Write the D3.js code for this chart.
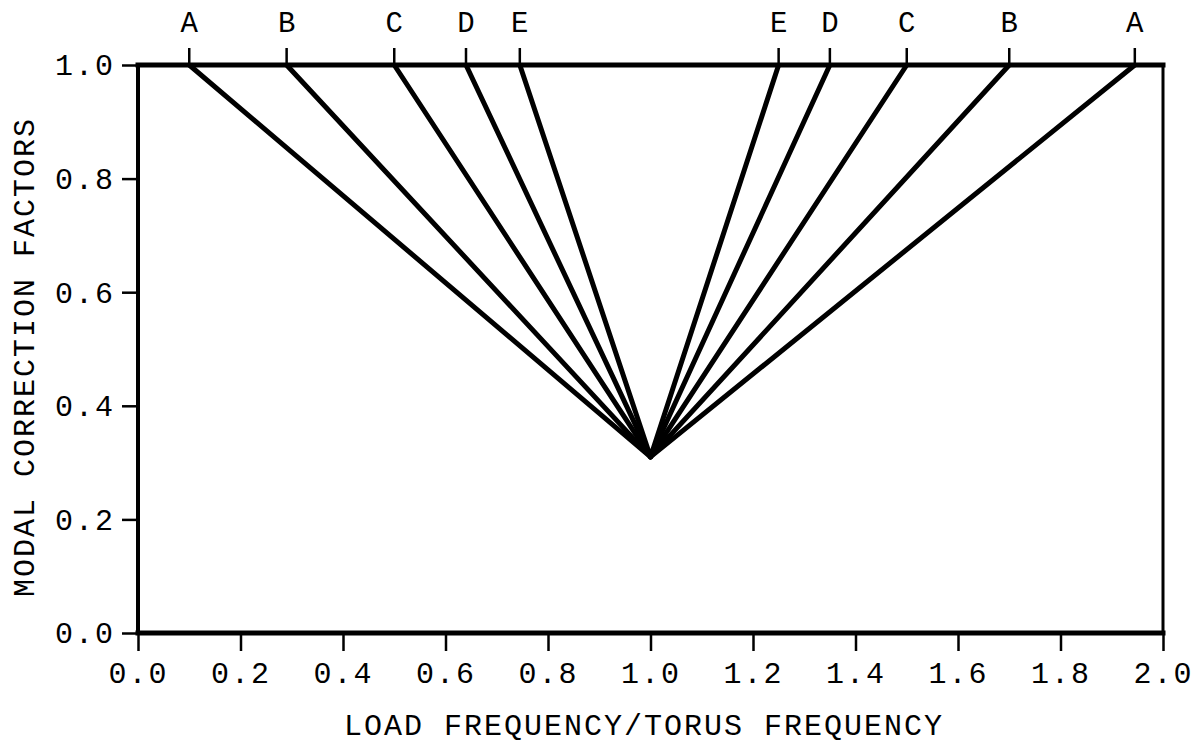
<!DOCTYPE html>
<html>
<head>
<meta charset="utf-8">
<script src="https://cdn.jsdelivr.net/npm/d3@7"></script>
<style>
  html, body { margin: 0; padding: 0; background: #fff; }
  svg { display: block; }
  text { font-family: "Courier New", "Liberation Mono", monospace; fill: #000; }
</style>
</head>
<body>
<svg id="chart" width="1195" height="745"></svg>
<script>
// Curve identifiers, drawn above the top frame at both ends of each curve
const curveLabels = ["A", "B", "C", "D", "E"];
// Frequency ratio where each curve reaches a factor of 1.0 below resonance
const lowerEnds = [0.10, 0.29, 0.50, 0.64, 0.745];
// Frequency ratio where each curve reaches a factor of 1.0 above resonance
const upperEnds = [1.945, 1.70, 1.50, 1.35, 1.25];
// All curves meet at the resonance point
const resonanceRatio = 1.0;
const resonanceFactor = 0.31;
const fullFactor = 1.0;

const xTicks = [0, 0.2, 0.4, 0.6, 0.8, 1.0, 1.2, 1.4, 1.6, 1.8, 2.0];
const yTicks = [0, 0.2, 0.4, 0.6, 0.8, 1.0];

const margin = { left: 138, right: 1163, top: 65, bottom: 633 };
const svg = d3.select("#chart");

const x = d3.scaleLinear().domain([0, 2]).range([margin.left, margin.right]);
const y = d3.scaleLinear().domain([0, 1]).range([margin.bottom, margin.top]);
const fmt = d3.format(".1f");
const monoFont = "'Courier New', 'Liberation Mono', monospace";

// Bottom axis
const xAxis = svg.append("g")
  .attr("transform", `translate(0,${margin.bottom})`)
  .call(d3.axisBottom(x).tickValues(xTicks).tickFormat(fmt).tickSize(18).tickSizeOuter(0));
xAxis.select(".domain").remove();
xAxis.selectAll(".tick line").attr("stroke", "#000").attr("stroke-width", 2.5);
xAxis.selectAll(".tick text")
  .attr("y", 50).attr("dy", 0)
  .attr("font-size", 30).attr("letter-spacing", 2)
  .attr("font-family", monoFont);

// Left axis
const yAxis = svg.append("g")
  .attr("transform", `translate(${margin.left},0)`)
  .call(d3.axisLeft(y).tickValues(yTicks).tickFormat(fmt).tickSize(16).tickSizeOuter(0));
yAxis.select(".domain").remove();
yAxis.selectAll(".tick line").attr("stroke", "#000").attr("stroke-width", 2.5);
yAxis.selectAll(".tick text")
  .attr("x", -23).attr("dy", "0.33em")
  .attr("font-size", 30).attr("letter-spacing", 2)
  .attr("font-family", monoFont);

// Frame
const frame = svg.append("g").attr("stroke", "#000").attr("stroke-linecap", "square");
frame.append("line").attr("x1", x(0)).attr("x2", x(2)).attr("y1", y(1)).attr("y2", y(1)).attr("stroke-width", 5);
frame.append("line").attr("x1", x(0)).attr("x2", x(2)).attr("y1", y(0)).attr("y2", y(0)).attr("stroke-width", 5);
frame.append("line").attr("x1", x(0)).attr("x2", x(0)).attr("y1", y(0)).attr("y2", y(1)).attr("stroke-width", 4);
frame.append("line").attr("x1", x(2)).attr("x2", x(2)).attr("y1", y(0)).attr("y2", y(1)).attr("stroke-width", 3);

// Curves: each one a V from its lower end, through resonance, to its upper end
const line = d3.line().x(d => x(d[0])).y(d => y(d[1]));
const curves = curveLabels.map((label, i) => ({
  label,
  points: [
    [lowerEnds[i], fullFactor],
    [resonanceRatio, resonanceFactor],
    [upperEnds[i], fullFactor]
  ]
}));

svg.append("g").selectAll("path")
  .data(curves)
  .join("path")
  .attr("d", d => line(d.points))
  .attr("fill", "none")
  .attr("stroke", "#000")
  .attr("stroke-width", 5)
  .attr("stroke-linejoin", "round");

// Top markers and labels at both ends of every curve
const ends = curves.flatMap(c => [
  { label: c.label, v: c.points[0][0] },
  { label: c.label, v: c.points[2][0] }
]);
const endMarks = svg.append("g");
endMarks.selectAll("line")
  .data(ends)
  .join("line")
  .attr("x1", d => x(d.v)).attr("x2", d => x(d.v))
  .attr("y1", y(fullFactor) - 17).attr("y2", y(fullFactor))
  .attr("stroke", "#000").attr("stroke-width", 2.5);
endMarks.selectAll("text")
  .data(ends)
  .join("text")
  .attr("x", d => x(d.v))
  .attr("y", 32)
  .attr("text-anchor", "middle")
  .attr("font-size", 29)
  .text(d => d.label);

// Axis titles
svg.append("text")
  .attr("x", 644).attr("y", 735)
  .attr("text-anchor", "middle")
  .attr("font-size", 30).attr("letter-spacing", 2)
  .text("LOAD FREQUENCY/TORUS FREQUENCY");

svg.append("text")
  .attr("transform", "translate(34,357) rotate(-90)")
  .attr("text-anchor", "middle")
  .attr("font-size", 30).attr("letter-spacing", 2)
  .text("MODAL CORRECTION FACTORS");
</script>
</body>
</html>
